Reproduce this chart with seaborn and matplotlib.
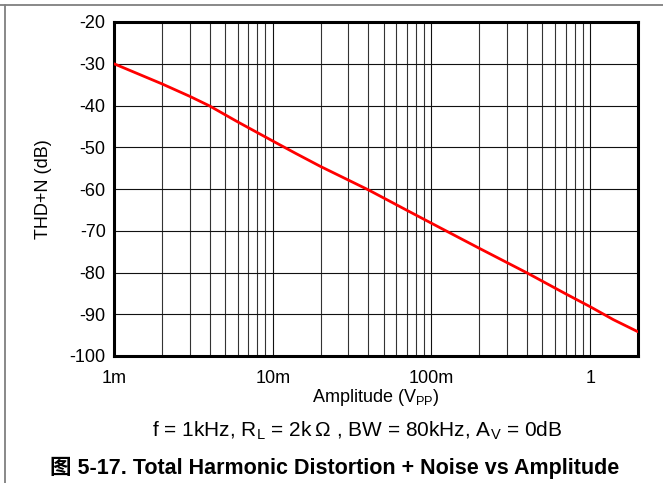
import numpy as np
import pandas as pd
import matplotlib
matplotlib.use("Agg")
import matplotlib.pyplot as plt
from matplotlib.lines import Line2D
import matplotlib.ticker as mticker
import seaborn as sns

# Data
amplitude_vpp = [0.001, 0.002, 0.003, 0.004, 0.006, 0.010, 0.014, 0.020,
                 0.040, 0.070, 0.100, 0.200, 0.400, 0.700, 1.0, 1.4, 2.0]
thd_n_db = [-30.0, -34.8, -37.8, -40.1, -43.9, -48.5, -51.5, -54.6,
            -60.2, -65.1, -68.2, -74.2, -80.1, -85.1, -88.2, -91.3, -94.2]
x_tick_values = [0.001, 0.01, 0.1, 1]
x_tick_labels = ["1m", "10m", "100m", "1"]
y_tick_values = [-100, -90, -80, -70, -60, -50, -40, -30, -20]

sns.set_theme(style="white")
plt.rcParams["font.family"] = ["Liberation Sans", "Noto Sans CJK SC", "DejaVu Sans"]
plt.rcParams["mathtext.fontset"] = "custom"
plt.rcParams["mathtext.rm"] = "Liberation Sans"

df = pd.DataFrame({"amp": amplitude_vpp, "thd": thd_n_db})

W, H = 663, 483
fig = plt.figure(figsize=(W / 100, H / 100), dpi=100)
ax = fig.add_axes([114 / W, 1 - 356 / H, (638 - 114) / W, (356 - 22) / H])

sns.lineplot(data=df, x="amp", y="thd", ax=ax, color="#ff0000", linewidth=2.0, zorder=5)

ax.set_xscale("log")
ax.set_xlim(0.001, 2.0)
ax.set_ylim(-100, -20)
ax.set_xticks(x_tick_values)
ax.set_xticklabels(x_tick_labels)
ax.xaxis.set_minor_locator(mticker.LogLocator(base=10, subs=np.arange(2, 10)))
ax.xaxis.set_minor_formatter(mticker.NullFormatter())
ax.set_yticks(y_tick_values)
ax.set_yticklabels([str(v) for v in y_tick_values])

ax.grid(True, which="major", axis="both", color="#111111", linewidth=0.8)
ax.grid(True, which="minor", axis="x", color="#333333", linewidth=0.8)
ax.tick_params(axis="both", which="both", length=0, labelsize=13, colors="black")
ax.tick_params(axis="x", pad=10)
ax.tick_params(axis="y", pad=6)

for s in ax.spines.values():
    s.set_color("black")
    s.set_linewidth(2.2)
    s.set_visible(True)

ax.set_xlabel("Amplitude (V$_{\\mathregular{PP}}$)", fontsize=13, color="black")
ax.xaxis.label.set_va("center")
ax.xaxis.set_label_coords(0.5, (356 - 398) / 334)
ax.set_ylabel("THD+N (dB)", fontsize=13, color="black")
ax.yaxis.label.set_va("center")
ax.yaxis.set_label_coords((43.5 - 114) / 524, 0.5)

fig.text(357 / W, 1 - 431 / H,
         "f = 1kHz, R$_{\\mathregular{L}}$ = 2k\u2009Ω , BW = 80kHz, A$_{\\mathregular{V}}$ = 0dB",
         ha="center", va="center", fontsize=15, color="black",
         family=["Liberation Sans", "DejaVu Sans"])
fig.text(335 / W, 1 - 468 / H, "图 5-17. Total Harmonic Distortion + Noise vs Amplitude",
         ha="center", va="center", fontsize=15.5, fontweight="bold", color="black",
         family=["Liberation Sans", "Noto Sans CJK SC"])

# Figure frame lines (top and left)
fig.add_artist(Line2D([0, 1], [1 - 4.5 / H, 1 - 4.5 / H], transform=fig.transFigure,
                      color="#7f7f7f", linewidth=1.3))
fig.add_artist(Line2D([4.5 / W, 4.5 / W], [0, 1 - 4.5 / H], transform=fig.transFigure,
                      color="#7f7f7f", linewidth=1.3))

fig.savefig("out.png", dpi=100)
